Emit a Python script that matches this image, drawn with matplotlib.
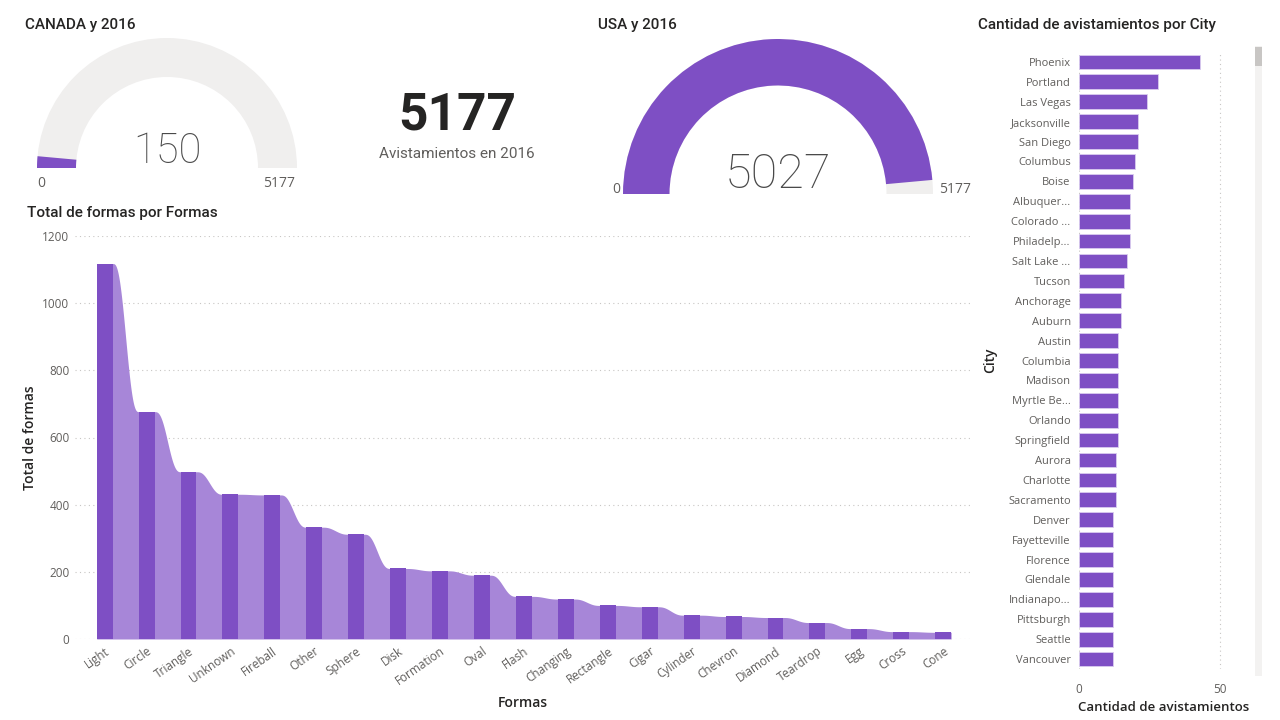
import matplotlib
matplotlib.use("Agg")
import matplotlib.pyplot as plt
import numpy as np
from matplotlib.patches import Wedge, Rectangle

# data
formas = ["Light", "Circle", "Triangle", "Unknown", "Fireball", "Other", "Sphere",
          "Disk", "Formation", "Oval", "Flash", "Changing", "Rectangle", "Cigar",
          "Cylinder", "Chevron", "Diamond", "Teardrop", "Egg", "Cross", "Cone"]
total_formas = [1118, 677, 498, 431, 429, 333, 312, 210, 203, 190, 127, 119,
                100, 96, 71, 67, 64, 49, 31, 22, 20]

cities = ["Phoenix", "Portland", "Las Vegas", "Jacksonville", "San Diego", "Columbus",
          "Boise", "Albuquer...", "Colorado ...", "Philadelp...", "Salt Lake ...",
          "Tucson", "Anchorage", "Auburn", "Austin", "Columbia", "Madison",
          "Myrtle Be...", "Orlando", "Springfield", "Aurora", "Charlotte",
          "Sacramento", "Denver", "Fayetteville", "Florence", "Glendale",
          "Indianapo...", "Pittsburgh", "Seattle", "Vancouver"]
avistamientos = [43, 28, 24, 21, 21, 20, 19, 18, 18, 18, 17, 16, 15, 15, 14, 14,
                 14, 14, 14, 14, 13, 13, 13, 12, 12, 12, 12, 12, 12, 12, 12]

canada_2016 = 150
usa_2016 = 5027
total_2016 = 5177

PURPLE = "#7E4FC4"
LIGHT_PURPLE = "#A786D8"
GAUGE_BG = "#F0EFEE"
TXT = "#252423"
GRAY = "#605E5C"

plt.rcParams['font.family'] = ['Open Sans', 'DejaVu Sans']

W, H = 1280, 720
fig = plt.figure(figsize=(12.8, 7.2), dpi=100)


def px_axes(x0, y0, x1, y1):
    # axes from pixel box (top-left origin)
    return fig.add_axes([x0 / W, 1 - y1 / H, (x1 - x0) / W, (y1 - y0) / H])


def title(x, y, s):
    fig.text(x / W, 1 - y / H, s, fontsize=11, color=TXT, family=['Roboto', 'DejaVu Sans'],
             va='center', ha='left', fontweight='medium')


# gauges
def gauge(ax, value, maxv, size, lo_pos, hi_pos):
    ax.set_xlim(-1, 1)
    ax.set_ylim(0, 1)
    ax.axis('off')
    ax.add_patch(Wedge((0, 0), 1, 0, 180, width=0.3, color=GAUGE_BG, lw=0))
    ang = 180 - 180 * value / maxv
    ax.add_patch(Wedge((0, 0), 1, ang, 180, width=0.3, color=PURPLE, lw=0))
    ax.text(0, 0.04, str(value), ha='center', va='baseline', fontsize=size,
            color="#4A4A4A", family=['Roboto', 'DejaVu Sans'], fontweight='light')
    ax.text(lo_pos[0], lo_pos[1], "0", ha=lo_pos[2], va='center', fontsize=10,
            color=GRAY, transform=ax.transAxes)
    ax.text(hi_pos[0], hi_pos[1], str(maxv), ha=hi_pos[2], va='center', fontsize=10,
            color=GRAY, transform=ax.transAxes)


ax_ca = px_axes(37, 38, 297, 168)
gauge(ax_ca, canada_2016, total_2016, 30, (0.0, -0.12, 'left'), (0.87, -0.12, 'left'))
title(25, 25, "CANADA y 2016")

ax_us = px_axes(623, 39, 933, 194)
gauge(ax_us, usa_2016, total_2016, 35, (-0.01, 0.03, 'right'), (1.02, 0.03, 'left'))
title(598, 25, "USA y 2016")

# card
fig.text(457 / W, 1 - 115 / H, str(total_2016), ha='center', va='center', fontsize=37,
         fontweight='bold', color=TXT, family=['Roboto', 'DejaVu Sans'])
fig.text(457 / W, 1 - 154 / H, "Avistamientos en 2016", ha='center', va='center',
         fontsize=11, color=GRAY, family=['Roboto', 'DejaVu Sans'])

# ribbon chart
title(27, 213, "Total de formas por Formas")
ax = px_axes(75, 236, 970, 639)
n = len(formas)
x = np.arange(n)
bw = 0.38
ax.set_xlim(-0.708, 20.64)
ax.set_ylim(0, 1200)
rx, ry = [], []
t = np.linspace(0, 1, 80)
s = t * t * t * (t * (t * 6 - 15) + 10)
for i in range(n):
    rx += [x[i] - bw / 2, x[i] + bw / 2]
    ry += [total_formas[i], total_formas[i]]
    if i < n - 1:
        xa = x[i] + bw / 2
        xb = x[i + 1] - bw / 2
        rx += list(xa + (xb - xa) * t)
        ry += list(total_formas[i] + (total_formas[i + 1] - total_formas[i]) * s)
ax.fill_between(rx, 0, ry, color=LIGHT_PURPLE, lw=0)
ax.bar(x, total_formas, width=bw, color=PURPLE, zorder=3)
ax.set_yticks(np.arange(0, 1201, 200))
ax.yaxis.grid(True, linestyle=(0, (1, 3)), color="#C8C6C4", lw=0.8)
ax.set_axisbelow(True)
ax.set_xticks(x)
ax.set_xticklabels(formas, rotation=35, ha='right', rotation_mode='anchor',
                   fontsize=8.5, color=GRAY)
ax.tick_params(axis='y', labelsize=8.5, labelcolor=GRAY, length=0, pad=4)
ax.tick_params(axis='x', length=0, pad=4)
for sp in ax.spines.values():
    sp.set_visible(False)
ax.set_ylabel("Total de formas", fontsize=10, color=TXT, labelpad=4, fontweight='semibold')
ax.set_xlabel("Formas", fontsize=10, color=TXT, labelpad=6, fontweight='semibold')

# city bar chart
title(978, 25, "Cantidad de avistamientos por City")
axc = px_axes(1079, 52, 1248, 669)
yc = np.arange(len(cities))
axc.barh(yc, avistamientos, height=0.74, color=PURPLE, edgecolor="#D9CCEF", lw=0.6)
axc.set_ylim(len(cities) - 0.5, -0.5)
axc.set_xlim(0, 60)
axc.set_yticks(yc)
axc.set_yticklabels(cities, fontsize=8, color=GRAY)
axc.set_xticks([0, 50])
axc.xaxis.grid(True, linestyle=(0, (1, 3)), color="#C8C6C4", lw=0.8)
axc.set_axisbelow(True)
axc.tick_params(axis='both', length=0)
axc.tick_params(axis='x', labelsize=8.5, labelcolor=GRAY, pad=10)
axc.tick_params(axis='y', pad=6)
for sp in axc.spines.values():
    sp.set_visible(False)
axc.set_ylabel("City", fontsize=10, color=TXT, labelpad=8, fontweight='semibold')
axc.set_xlabel("Cantidad de avistamientos", fontsize=9.5, color=TXT, labelpad=4,
               fontweight='semibold')

# scrollbar
fig.patches.append(Rectangle((1255 / W, 1 - 676 / H), 7 / W, 630 / H,
                             transform=fig.transFigure, color="#F3F2F1", lw=0))
fig.patches.append(Rectangle((1255 / W, 1 - 66 / H), 7 / W, 19 / H,
                             transform=fig.transFigure, color="#C8C6C4", lw=0))

fig.savefig("out.png", dpi=100)
